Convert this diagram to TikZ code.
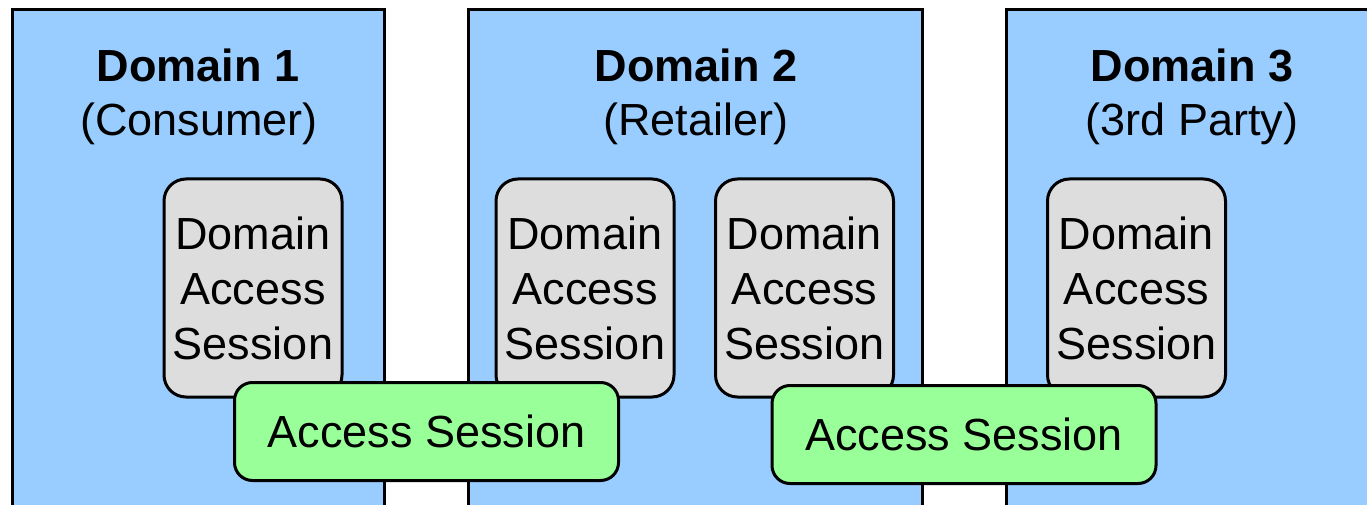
\documentclass[tikz,border=0pt]{standalone}
\usepackage{fontspec}
\setmainfont{Liberation Sans}
\definecolor{domblue}{HTML}{99CCFF}
\definecolor{dasgray}{HTML}{DDDDDD}
\definecolor{accgreen}{HTML}{99FF99}
\begin{document}
\begin{tikzpicture}[x=1pt,y=-1pt,
  dombox/.style={draw=black, line width=3pt, fill=domblue},
  titletext/.style={anchor=base, inner sep=0pt, font=\fontsize{45}{55}\selectfont\bfseries},
  subtext/.style={anchor=base, inner sep=0pt, font=\fontsize{45}{55}\selectfont},
  das/.style={draw=black, line width=3pt, fill=dasgray, rounded corners=22pt,
    minimum width=178pt, minimum height=218pt, inner sep=0pt, align=center,
    font=\fontsize{45}{55}\selectfont},
  acc/.style={draw=black, line width=3pt, fill=accgreen, rounded corners=18pt,
    minimum width=384pt, minimum height=98pt, inner sep=0pt,
    font=\fontsize{45}{55}\selectfont}]
  \useasboundingbox (0,0) rectangle (1367,505);
  \clip (0,0) rectangle (1367,505);
  % domains
  \draw[dombox] (12,9.5) rectangle (384,530);
  \draw[dombox] (468,9.5) rectangle (922,530);
  \draw[dombox] (1006,9.5) rectangle (1390,530);
  % titles
  \node[titletext] (t1) at (198,82) {Domain 1};
  \node[subtext] (s1) at (199,136) {(Consumer)};
  \node[titletext] (t2) at (696,82) {Domain 2};
  \node[subtext] (s2) at (696,136) {(Retailer)};
  \node[titletext] (t3) at (1192,82) {Domain 3};
  \node[subtext] (s3) at (1192,136) {(3rd Party)};
  % domain access sessions
  \node[das] (d1) at (253,288) {Domain\\Access\\Session};
  \node[das] (d2) at (585,288) {Domain\\Access\\Session};
  \node[das] (d3) at (804.5,288) {Domain\\Access\\Session};
  \node[das] (d4) at (1136.5,288) {Domain\\Access\\Session};
  % access sessions
  \node[acc] (a1) at (426.5,431.5) {Access Session};
  \node[acc] (a2) at (964,434.5) {Access Session};
\end{tikzpicture}
\end{document}
